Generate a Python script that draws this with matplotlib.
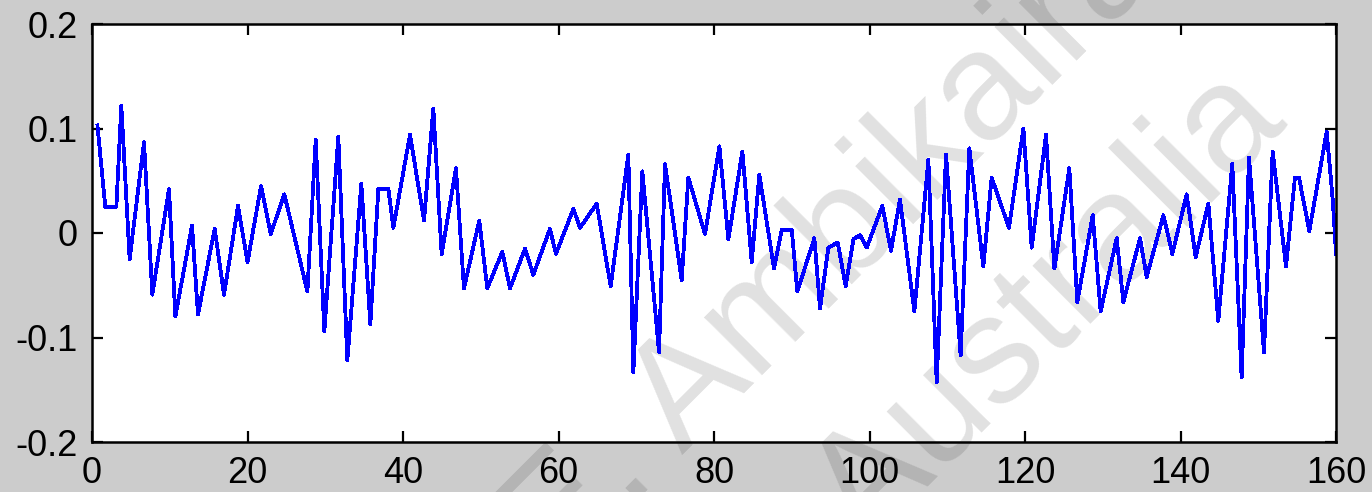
import matplotlib
matplotlib.use("Agg")
import matplotlib.pyplot as plt

# turning points of the signal
t = [0.7, 1.54, 1.71, 3.13, 3.77, 4.84, 6.69, 7.76, 9.9, 10.72,
     12.86, 13.63, 15.78, 16.98, 18.78, 20.0, 21.74, 22.98, 24.74, 27.7,
     28.77, 29.88, 31.68, 32.84, 34.64, 35.8, 36.83, 38.12, 38.76, 40.9,
     42.7, 43.9, 44.97, 46.81, 47.84, 49.81, 50.84, 52.77, 53.76, 55.69,
     56.76, 58.9, 59.67, 61.91, 62.77, 64.91, 66.71, 68.98, 69.63, 70.78,
     72.93, 73.7, 75.84, 76.7, 78.84, 80.69, 81.85, 83.65, 84.85, 85.83,
     87.72, 88.71, 90.0, 90.72, 92.91, 93.64, 94.71, 95.91, 96.94, 97.93,
     98.78, 99.64, 101.65, 102.76, 103.92, 105.77, 107.57, 108.64, 109.84, 111.72,
     112.84, 114.64, 115.71, 117.94, 119.79, 120.86, 122.7, 123.78, 125.7, 126.73,
     128.71, 129.73, 131.79, 132.65, 134.79, 135.65, 137.8, 138.95, 140.79, 141.95,
     143.58, 144.86, 146.66, 147.86, 148.81, 150.74, 151.85, 153.57, 154.72, 155.24,
     156.57, 158.8, 159.6, 160.0]
amp = [0.103, 0.038, 0.025, 0.025, 0.122, -0.025, 0.087, -0.059, 0.042, -0.080,
       0.007, -0.078, 0.004, -0.059, 0.026, -0.028, 0.045, -0.001, 0.037, -0.056,
       0.089, -0.094, 0.092, -0.122, 0.047, -0.087, 0.042, 0.042, 0.005, 0.094,
       0.012, 0.119, -0.020, 0.062, -0.053, 0.012, -0.053, -0.018, -0.053, -0.015,
       -0.040, 0.004, -0.020, 0.023, 0.005, 0.028, -0.051, 0.075, -0.133, 0.059,
       -0.114, 0.066, -0.045, 0.053, -0.001, 0.083, -0.006, 0.078, -0.028, 0.056,
       -0.034, 0.003, 0.003, -0.056, -0.005, -0.072, -0.014, -0.009, -0.051, -0.006,
       -0.002, -0.014, 0.026, -0.017, 0.032, -0.075, 0.070, -0.143, 0.075, -0.117,
       0.081, -0.032, 0.053, 0.005, 0.100, -0.014, 0.094, -0.034, 0.062, -0.066,
       0.017, -0.075, -0.005, -0.066, -0.005, -0.042, 0.017, -0.020, 0.037, -0.023,
       0.028, -0.084, 0.066, -0.138, 0.072, -0.114, 0.078, -0.032, 0.053, 0.053,
       0.002, 0.097, 0.030, -0.020]

xticks = [0, 20, 40, 60, 80, 100, 120, 140, 160]
yticks = [-0.2, -0.1, 0, 0.1, 0.2]
ylabels = ['-0.2', '-0.1', '0', '0.1', '0.2']

plt.rcParams['font.family'] = ['Liberation Sans', 'DejaVu Sans']

W, H = 1372, 492
fig = plt.figure(figsize=(W / 100, H / 100), dpi=100, facecolor='#cccccc')
ax = fig.add_axes([92 / W, 1 - 442 / H, (1336 - 92) / W, (442 - 24) / H])
ax.set_facecolor('white')

ax.plot(t, amp, color='#0000ff', lw=2.0, antialiased=False, zorder=3)

ax.set_xlim(0, 160)
ax.set_ylim(-0.2, 0.2)
ax.set_xticks(xticks)
ax.set_xticklabels([str(v) for v in xticks])
ax.set_yticks(yticks)
ax.set_yticklabels(ylabels)
ax.tick_params(direction='in', length=8, width=1.6, labelsize=26,
               top=True, right=True, pad=10)
for s in ax.spines.values():
    s.set_linewidth(1.8)
    s.set_zorder(4)

# watermark, drawn under the line
wm = dict(transform=fig.transFigure, rotation=45, rotation_mode='anchor',
          ha='left', va='baseline', fontsize=111, color='black', alpha=0.12,
          clip_on=False, zorder=1)
ax.text(555 / W, 1 - 582 / H, 'E. Ambikairajah', **wm)
ax.text(866 / W, 1 - 548 / H, 'Australia', **wm)

fig.savefig('out.png', dpi=100, facecolor=fig.get_facecolor())
